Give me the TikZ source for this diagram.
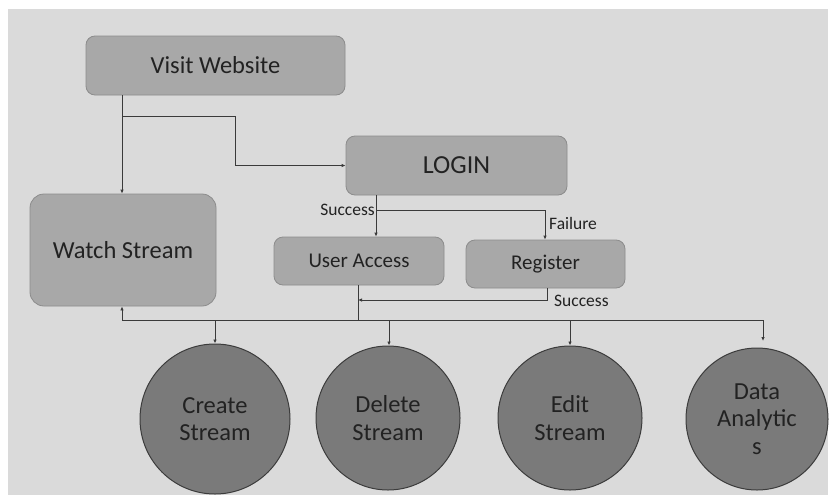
\documentclass[tikz,border=0pt]{standalone}
\usepackage{fontspec}
\setmainfont{Carlito}
\usetikzlibrary{arrows.meta}
\definecolor{bg}{HTML}{DADADA}
\definecolor{boxfill}{HTML}{A8A8A8}
\definecolor{boxline}{HTML}{8C8C8C}
\definecolor{circfill}{HTML}{7A7A7A}
\definecolor{circline}{HTML}{3C3C3C}
\definecolor{txt}{HTML}{222222}
\definecolor{wire}{HTML}{3A3A3A}
\begin{document}
\begin{tikzpicture}[x=1pt,y=-1pt,
  rbox/.style={draw=boxline,fill=boxfill,rounded corners=9pt,line width=0.8pt,text=txt,inner sep=0pt},
  circ/.style={circle,draw=circline,fill=circfill,line width=1pt,text=txt,inner sep=0pt,minimum size=146pt,align=center,font=\fontsize{24.5}{27.5}\selectfont},
  wirel/.style={draw=wire,line width=1pt},
  arr/.style={wirel,-{Latex[length=4pt,width=3.5pt]}},
  lbl/.style={text=txt,font=\fontsize{17.5}{19}\selectfont,inner sep=1pt}]
\useasboundingbox (0,0) rectangle (832,498);
\fill[white] (0,0) rectangle (832,498);
\fill[bg] (8,9) rectangle (828,495);
% boxes
\node[rbox,minimum width=259pt,minimum height=59pt,font=\fontsize{24.5}{26}\selectfont] (visit) at (215.5,65.5) {Visit Website};
\node[rbox,minimum width=221pt,minimum height=59pt,font=\fontsize{26}{28}\selectfont] (login) at (456.5,165.5) {LOGIN};
\node[rbox,minimum width=186pt,minimum height=112pt,rounded corners=14pt,font=\fontsize{24.5}{26}\selectfont] (watch) at (123,250) {Watch Stream};
\node[rbox,minimum width=170pt,minimum height=48pt,font=\fontsize{21}{23}\selectfont] (user) at (359,261) {User Access};
\node[rbox,minimum width=159pt,minimum height=48pt,font=\fontsize{21}{23}\selectfont] (reg) at (545.5,264) {Register};
% circles
\node[circ,minimum size=150pt] (create) at (215,419) {Create\\Stream};
\node[circ,minimum size=144pt] (delete) at (388,418) {Delete\\Stream};
\node[circ,minimum size=144pt] (edit) at (570,418) {Edit\\Stream};
\node[circ,minimum size=142pt] (data) at (757,419) {Data\\Analytic\\s};
% coordinates
\coordinate (v1) at (122,116);
\coordinate (v2) at (235,116);
\coordinate (v3) at (235,165.5);
\coordinate (l1) at (376,210);
\coordinate (l2) at (545,210);
\coordinate (u1) at (358,300);
\coordinate (u2) at (358,320);
\coordinate (r1) at (547,300);
\coordinate (b0) at (122,320);
\coordinate (b1) at (215,320);
\coordinate (b2) at (389,320);
\coordinate (b3) at (570,320);
\coordinate (b4) at (763,320);
% connectors
\draw[arr] (visit.south -| v1) -- (watch.north -| v1);
\draw[arr] (v1) -- (v2) -- (v3) -- (login.west);
\draw[arr] (login.south -| l1) -- (user.north -| l1);
\draw[arr] (l1) -- (l2) -- (reg.north -| l2);
\draw[wirel] (user.south -| u1) -- (u2);
\draw[arr] (reg.south -| r1) -- (r1) -- (u1);
\draw[wirel] (b0) -- (b4);
\draw[arr] (b0) -- (watch.south -| b0);
\draw[arr] (b1) -- (create.north);
\draw[arr] (b2) -- (delete.north -| b2);
\draw[arr] (b3) -- (edit.north);
\draw[arr] (b4) -- (763,341);
% labels
\node[lbl,anchor=east] (s1) at (l1) {Success};
\node[lbl,anchor=west] (f1) at (548,223) {Failure};
\node[lbl,anchor=west] (s2) at (553,301) {Success};
\end{tikzpicture}
\end{document}
